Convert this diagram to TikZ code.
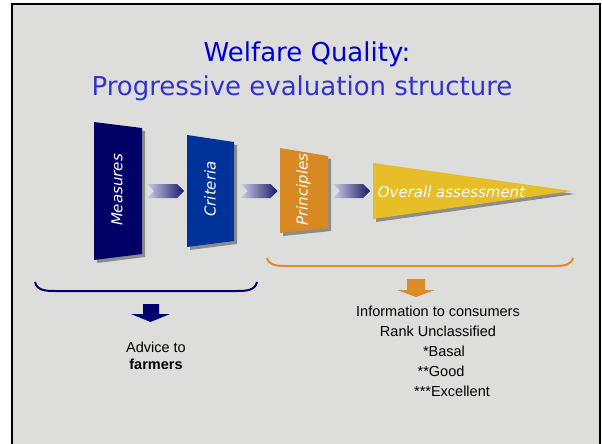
\documentclass[tikz,border=0pt]{standalone}
\usepackage{fontspec}
\setmainfont{Liberation Sans}
\newfontfamily\titlefont{DejaVu Sans}
\newfontfamily\boxfont{DejaVu Sans}
\usetikzlibrary{shapes.symbols,shadows,positioning}

\definecolor{slidegray}{RGB}{221,221,219}
\definecolor{titleblue}{RGB}{0,0,204}
\definecolor{subblue}{RGB}{51,51,204}
\definecolor{measurescol}{RGB}{0,0,102}
\definecolor{criteriacol}{RGB}{0,51,153}
\definecolor{principlescol}{RGB}{217,137,35}
\definecolor{overallcol}{RGB}{230,190,40}
\definecolor{navycol}{RGB}{0,0,110}
\definecolor{orangecol}{RGB}{222,140,40}
\definecolor{chevlight}{RGB}{205,205,232}
\definecolor{chevdark}{RGB}{25,25,105}

\begin{document}
\begin{tikzpicture}[x=1pt,y=-1pt,
    boxlabel/.style={text=white,inner sep=0pt,font=\boxfont\itshape\fontsize{15}{15}\selectfont},
    chevron/.style={signal,signal from=west,signal to=east,inner sep=0pt,
      minimum width=37pt,minimum height=14pt,left color=chevlight,right color=chevdark},
    infotext/.style={inner sep=0pt,anchor=base,font=\fontsize{14.5}{16}\selectfont},
    boxshadow/.style={drop shadow={shadow xshift=3pt,shadow yshift=-3pt,fill=black!45,opacity=1}}]
  \useasboundingbox (0,0) rectangle (602,444);
  \fill[white] (0,0) rectangle (602,444);
  \fill[slidegray] (12,4) rectangle (600,444);
  \draw[line width=2pt] (12,444) -- (12,4) -- (600,4) -- (600,444);

  % title
  \node[anchor=base,inner sep=0pt,text=titleblue,font=\titlefont\fontsize{26}{26}\selectfont] (title) at (307,62) {Welfare Quality:};
  \node[anchor=base,inner sep=0pt,text=subblue,font=\titlefont\fontsize{26}{26}\selectfont] (subtitle) at (302,95) {Progressive evaluation structure};

  % the four stages
  \fill[measurescol,boxshadow] (94,122) -- (142,128) -- (142,254) -- (94,260) -- cycle;
  \node[boxlabel,rotate=90] (measures) at (117,190) {Measures};
  \fill[criteriacol,boxshadow] (187,135) -- (234,142) -- (234,241) -- (187,247) -- cycle;
  \node[boxlabel,rotate=90] (criteria) at (210,189) {Criteria};
  \fill[principlescol,boxshadow] (280,148) -- (328,156) -- (328,228) -- (280,233) -- cycle;
  \node[boxlabel,rotate=90] (principles) at (303.5,189.5) {Principles};
  \fill[overallcol,boxshadow] (373,163) -- (572,191) -- (373,219) -- cycle;
  \node[boxlabel] (overall) at (451.5,191.5) {Overall assessment};

  \node[chevron] (mtoc) at (165.5,191) {};
  \node[chevron] (ctop) at (259,191) {};
  \node[chevron] (ptoo) at (351.5,191) {};

  % braces and outputs
  \draw[navycol,line width=2pt] (35,282) .. controls (37,290) and (44,291) .. (55,291) -- (237,291) .. controls (248,291) and (255,290) .. (257,282);
  \draw[orangecol,line width=2pt] (267,258) .. controls (269,265) and (276,266) .. (285,266) -- (555,266) .. controls (564,266) and (571,265) .. (573,258);
  \fill[navycol] (143,304) -- (159,304) -- (159,314) -- (170,314) -- (150.5,322) -- (131,314) -- (143,314) -- cycle;
  \fill[orangecol] (407,279) -- (425,279) -- (425,290) -- (435,290) -- (416,297) -- (397,290) -- (407,290) -- cycle;

  \node[infotext] (advice) at (156,352) {Advice to};
  \node[infotext] (farmers) at (156,369) {\bfseries farmers};
  \node[infotext] (consumers) at (438,316) {Information to consumers};
  \node[infotext] (rank) at (438,336) {Rank Unclassified};
  \node[infotext] (basal) at (444,356) {*Basal};
  \node[infotext] (good) at (441,376) {**Good};
  \node[infotext] (excellent) at (452,396) {***Excellent};
\end{tikzpicture}
\end{document}
